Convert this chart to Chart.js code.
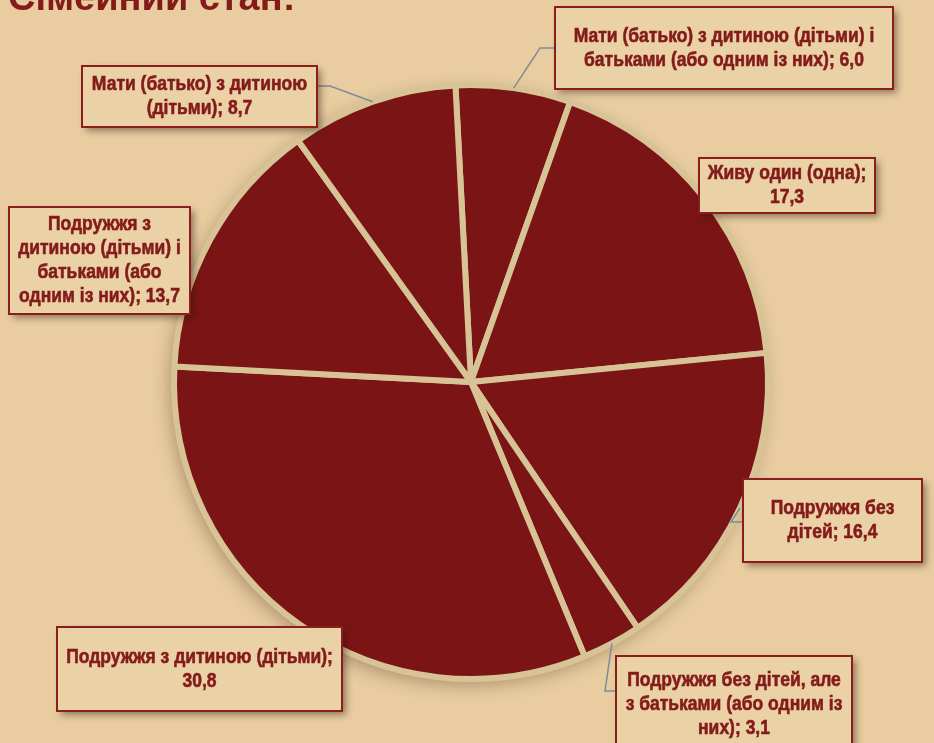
<!DOCTYPE html>
<html lang="uk">
<head>
  <meta charset="UTF-8" />
  <title>Сімейний стан</title>
  <script src="https://cdn.jsdelivr.net/npm/chart.js"></script>
  <style>
    body {
      margin: 0;
      background-color: #e9cda1;
    }
    .wrap {
      width: 934px;
      height: 743px;
      position: relative;
    }
  </style>
</head>
<body>
<div class="wrap">
  <canvas id="pieChart"></canvas>
</div>

<script>
  // chart data, clockwise from the top
  const categories = [
    "Мати (батько) з дитиною (дітьми) і батьками (або одним із них)",
    "Живу один (одна)",
    "Подружжя без дітей",
    "Подружжя без дітей, але з батьками (або одним із них)",
    "Подружжя з дитиною (дітьми)",
    "Подружжя з дитиною (дітьми) і батьками (або одним із них)",
    "Мати (батько) з дитиною (дітьми)"
  ];
  const shares = [6.0, 17.3, 16.4, 3.1, 30.8, 13.7, 8.7];
  const chartTitle = "Сімейний стан:";

  // label boxes: position, words per line, leader elbow
  const labelBoxes = [
    { x: 555, y: 7,   w: 338, h: 82,  lines: [6, 6],       elbow: [540, 48] },
    { x: 699, y: 158, w: 176, h: 55,  lines: [3, 1],       elbow: null },
    { x: 743, y: 479, w: 179, h: 83,  lines: [2, 2],       elbow: [731, 522] },
    { x: 616, y: 656, w: 236, h: 96,  lines: [4, 5, 2],    elbow: [605, 691] },
    { x: 57,  y: 627, w: 285, h: 84,  lines: [4, 1],       elbow: null },
    { x: 9,   y: 207, w: 181, h: 107, lines: [2, 3, 2, 4], elbow: null },
    { x: 82,  y: 66,  w: 235, h: 61,  lines: [4, 2],       elbow: [330, 86] }
  ];

  const darkRed = "#7b1515";
  const textRed = "#841b1b";
  // no narrow face installed, so squeeze the regular bold one
  const labelFont = 'bold 20px "Liberation Sans", Arial, sans-serif';
  const squeeze = 0.875;

  function fmt(v) {
    return v.toFixed(1).replace(".", ",");
  }

  // soft shadow under the pie
  const pieShadow = {
    id: "pieShadow",
    beforeDatasetsDraw(chart) {
      const arc = chart.getDatasetMeta(0).data[0];
      if (!arc) return;
      const ctx = chart.ctx;
      ctx.save();
      ctx.shadowColor = "rgba(60, 30, 10, 0.35)";
      ctx.shadowBlur = 18;
      ctx.shadowOffsetX = -4;
      ctx.shadowOffsetY = 6;
      ctx.fillStyle = darkRed;
      ctx.beginPath();
      ctx.arc(arc.x, arc.y, arc.outerRadius, 0, Math.PI * 2);
      ctx.fill();
      ctx.restore();
    }
  };

  // title, leader lines and boxed labels
  const pieLabels = {
    id: "pieLabels",
    afterDraw(chart) {
      const ctx = chart.ctx;
      const meta = chart.getDatasetMeta(0);

      ctx.save();
      ctx.fillStyle = textRed;
      ctx.font = 'bold 38px "Liberation Sans", Arial, sans-serif';
      ctx.textAlign = "left";
      ctx.textBaseline = "alphabetic";
      ctx.fillText(chartTitle, 8, 10);
      ctx.restore();

      labelBoxes.forEach((box, i) => {
        const arc = meta.data[i];
        const mid = (arc.startAngle + arc.endAngle) / 2;
        const ax = arc.x + Math.cos(mid) * arc.outerRadius;
        const ay = arc.y + Math.sin(mid) * arc.outerRadius;

        // leader line
        if (box.elbow) {
          const [ex, ey] = box.elbow;
          const edgeX = Math.abs(ex - box.x) < Math.abs(ex - (box.x + box.w)) ? box.x : box.x + box.w;
          ctx.save();
          ctx.strokeStyle = "#7f8b98";
          ctx.lineWidth = 1.5;
          ctx.beginPath();
          ctx.moveTo(ax, ay);
          ctx.lineTo(ex, ey);
          ctx.lineTo(edgeX, ey);
          ctx.stroke();
          ctx.restore();
        }

        // box with shadow
        ctx.save();
        ctx.shadowColor = "rgba(40, 20, 10, 0.45)";
        ctx.shadowBlur = 7;
        ctx.shadowOffsetX = 4;
        ctx.shadowOffsetY = 4;
        ctx.fillStyle = "#ebd1a6";
        ctx.fillRect(box.x, box.y, box.w, box.h);
        ctx.restore();
        ctx.save();
        ctx.strokeStyle = "#8c1d1d";
        ctx.lineWidth = 2;
        ctx.strokeRect(box.x, box.y, box.w, box.h);
        ctx.restore();

        // text
        const words = (categories[i] + "; " + fmt(shares[i])).split(" ");
        const lines = [];
        let k = 0;
        box.lines.forEach(n => {
          lines.push(words.slice(k, k + n).join(" "));
          k += n;
        });
        const lh = 24;
        const cx = box.x + box.w / 2;
        const top = box.y + box.h / 2 - (lines.length - 1) * lh / 2;
        ctx.save();
        ctx.translate(cx, 0);
        ctx.scale(squeeze, 1);
        ctx.fillStyle = textRed;
        ctx.strokeStyle = textRed;
        ctx.lineWidth = 0.6;
        ctx.font = labelFont;
        ctx.textAlign = "center";
        ctx.textBaseline = "middle";
        lines.forEach((ln, j) => {
          ctx.fillText(ln, 0, top + j * lh);
          ctx.strokeText(ln, 0, top + j * lh);
        });
        ctx.restore();
      });
    }
  };

  new Chart(document.getElementById("pieChart"), {
    type: "pie",
    data: {
      labels: categories,
      datasets: [{
        data: shares,
        backgroundColor: darkRed,
        borderColor: "#d8c397",
        borderWidth: 6
      }]
    },
    options: {
      responsive: true,
      maintainAspectRatio: false,
      animation: false,
      rotation: -3,
      layout: {
        padding: { left: 171, right: 163, top: 82, bottom: 61 }
      },
      plugins: {
        legend: { display: false },
        tooltip: { enabled: false }
      }
    },
    plugins: [pieShadow, pieLabels]
  });
</script>
</body>
</html>
